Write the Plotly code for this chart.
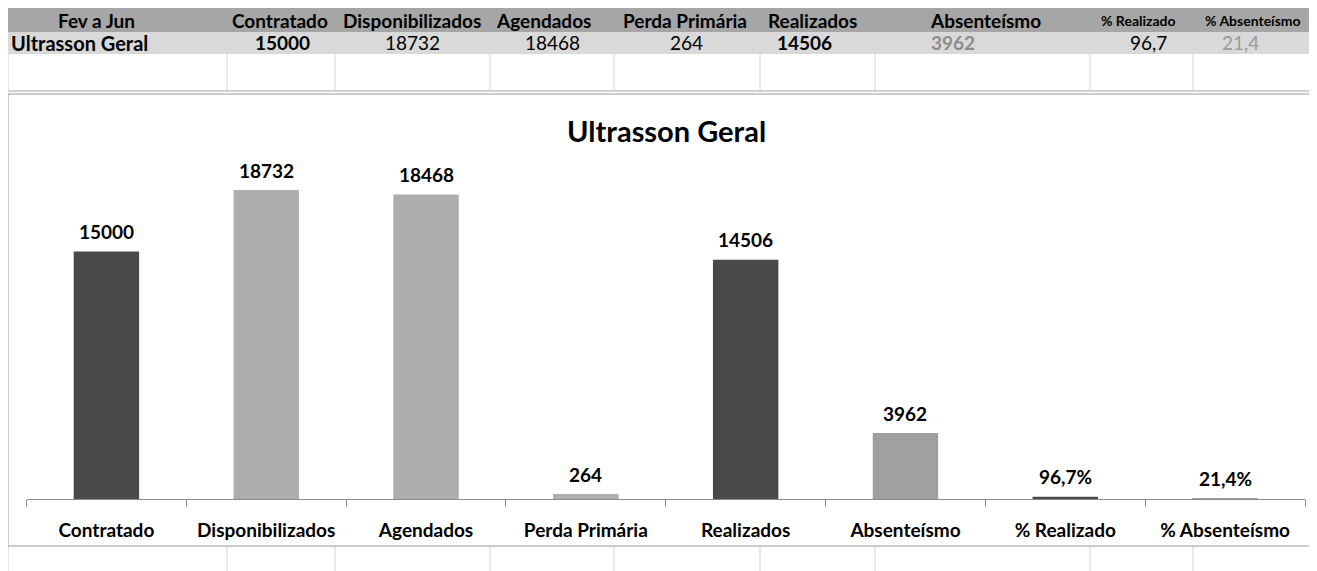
import plotly.graph_objects as go

# ---------------- data ----------------
period_label = "Fev a Jun"
group_name = "Ultrasson Geral"
categories = ["Contratado", "Disponibilizados", "Agendados", "Perda Primária",
              "Realizados", "Absenteísmo", "% Realizado", "% Absenteísmo"]
values = [15000, 18732, 18468, 264, 14506, 3962, 96.7, 21.4]
is_pct = [False, False, False, False, False, False, True, True]
bar_colors = ["#494949", "#ADADAD", "#ADADAD", "#ADADAD",
              "#494949", "#A0A0A0", "#494949", "#A0A0A0"]

# table cell styling (row 2)
row_bold = [True, False, False, False, True, True, False, False]
row_color = ["#000000", "#000000", "#000000", "#000000",
             "#000000", "#8C8C8C", "#000000", "#9A9A9A"]

# page has an 8px body margin -> work in screen pixels, subtract the offset
OFF = 8
W, H = 1317 - OFF, 571 - OFF
FONT = "Lato"


def px(x):
    return (x - OFF) / W


def py(y):
    return 1 - (y - OFF) / H


def fmt_cell(v, pct):
    return f"{v:.1f}".replace(".", ",") if pct else f"{int(v)}"


def fmt_label(v, pct):
    return (f"{v:.1f}".replace(".", ",") + "%") if pct else f"{int(v)}"


fig = go.Figure()
fig.add_trace(go.Bar(
    x=categories, y=values,
    marker=dict(color=bar_colors, line=dict(color=bar_colors, width=1.5)),
    width=0.40, showlegend=False, hoverinfo="skip",
))

shapes = []
annotations = []

# ---------- spreadsheet table ----------
col_bounds = [8, 227, 335, 490, 614, 760, 875, 1090, 1193]
y_head = (8, 32)
y_row = (32, 54)
y_row3 = (54, 91)
frame_bottom = 546

shapes.append(dict(type="rect", xref="paper", yref="paper",
                   x0=px(8), x1=1, y0=py(y_head[1]), y1=py(y_head[0]),
                   fillcolor="#A6A6A6", line=dict(width=0), layer="below"))
shapes.append(dict(type="rect", xref="paper", yref="paper",
                   x0=px(8), x1=1, y0=py(y_row[1]), y1=py(y_row[0]),
                   fillcolor="#D9D9D9", line=dict(width=0), layer="below"))
for xb in col_bounds:
    shapes.append(dict(type="line", xref="paper", yref="paper",
                       x0=px(xb), x1=px(xb), y0=py(y_row3[1]), y1=py(y_row3[0]),
                       line=dict(color="#D4D4D4", width=1)))
    shapes.append(dict(type="line", xref="paper", yref="paper",
                       x0=px(xb), x1=px(xb), y0=py(571), y1=py(frame_bottom),
                       line=dict(color="#D4D4D4", width=1)))
shapes.append(dict(type="line", xref="paper", yref="paper",
                   x0=px(8), x1=1, y0=py(91), y1=py(91),
                   line=dict(color="#D0D0D0", width=2)))

# header texts
head_texts = [period_label] + categories
head_x = [96, 280, 412, 543, 685, 812, 985, 1138, 1253]
head_size = [19, 19, 19, 19, 19, 19, 19, 14, 14]
for t, x, s in zip(head_texts, head_x, head_size):
    annotations.append(dict(text=t, x=px(x), y=py(20.5),
                            xref="paper", yref="paper", showarrow=False,
                            xanchor="center", yanchor="middle",
                            font=dict(family=FONT, size=s, color="#000000", weight=700)))

# row texts
annotations.append(dict(text=group_name, x=px(9), y=py((y_row[0] + y_row[1]) / 2),
                        xref="paper", yref="paper", showarrow=False,
                        xanchor="left", yanchor="middle",
                        font=dict(family=FONT, size=20, color="#000000", weight=700)))
row_x = [282, 412, 552, 686, 804, 953, 1148, 1240]
for v, p, b, c, x in zip(values, is_pct, row_bold, row_color, row_x):
    annotations.append(dict(text=fmt_cell(v, p), x=px(x), y=py((y_row[0] + y_row[1]) / 2),
                            xref="paper", yref="paper", showarrow=False,
                            xanchor="center", yanchor="middle",
                            font=dict(family=FONT, size=19, color=c,
                                      weight=700 if b else 400)))

# ---------- chart frame ----------
shapes.append(dict(type="rect", xref="paper", yref="paper",
                   x0=px(8), x1=px(1340), y0=py(frame_bottom), y1=py(94),
                   line=dict(color="#9A9A9A", width=1), fillcolor="rgba(0,0,0,0)"))

# chart title
annotations.append(dict(text=group_name, x=px(666), y=py(131),
                        xref="paper", yref="paper", showarrow=False,
                        xanchor="center", yanchor="middle",
                        font=dict(family=FONT, size=29, color="#000000", weight=700)))

# data labels
for c, v, p in zip(categories, values, is_pct):
    annotations.append(dict(text=fmt_label(v, p), x=c, y=v, xref="x", yref="y",
                            showarrow=False, xanchor="center", yanchor="bottom",
                            yshift=7,
                            font=dict(family=FONT, size=19, color="#000000", weight=700)))

fig.update_layout(
    width=W, height=H,
    margin=dict(l=0, r=0, t=0, b=0),
    paper_bgcolor="white", plot_bgcolor="rgba(0,0,0,0)",
    bargap=0.60,
    shapes=shapes, annotations=annotations,
    xaxis=dict(domain=[px(26.5), px(1305)], type="category",
               range=[-0.5, 7.5], showgrid=False, zeroline=False,
               showline=True, linecolor="#8C8C8C", linewidth=1,
               ticks="outside", ticklen=7, tickcolor="#8C8C8C", tickwidth=1,
               tickson="boundaries", ticklabelstandoff=14,
               tickfont=dict(family=FONT, size=19, color="#000000", weight=700),
               fixedrange=True),
    yaxis=dict(domain=[py(499), py(170)], range=[0, 20000], visible=False,
               fixedrange=True),
    font=dict(family=FONT),
)

fig.write_html("out.html")
